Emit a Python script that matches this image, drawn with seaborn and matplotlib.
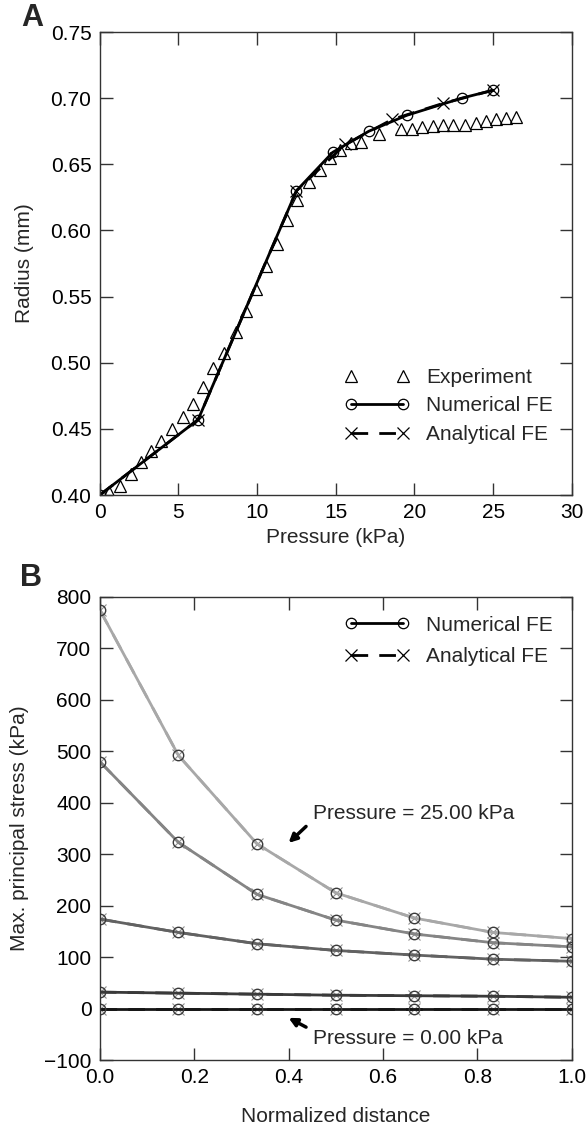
import numpy as np
import matplotlib
matplotlib.use("Agg")
import matplotlib.pyplot as plt
import seaborn as sns
from matplotlib.lines import Line2D

# --- panel A data: radius vs pressure ---
exp_p = [0.6, 1.27, 1.97, 2.61, 3.24, 3.88, 4.58, 5.30, 5.93, 6.57, 7.21, 7.92,
         8.64, 9.28, 9.90, 10.55, 11.29, 11.93, 12.56, 13.30, 13.98, 14.62, 15.26,
         15.96, 16.59, 17.76, 19.13, 19.83, 20.50, 21.15, 21.82, 22.46, 23.22,
         23.90, 24.54, 25.17, 25.81, 26.45]
exp_r = [0.402, 0.407, 0.416, 0.425, 0.433, 0.441, 0.450, 0.459, 0.469, 0.482,
         0.496, 0.507, 0.523, 0.539, 0.556, 0.573, 0.590, 0.608, 0.623, 0.637,
         0.646, 0.655, 0.661, 0.666, 0.667, 0.673, 0.677, 0.677, 0.678, 0.679,
         0.680, 0.680, 0.680, 0.681, 0.683, 0.684, 0.685, 0.686]
num_p = [0.0, 6.25, 12.5, 14.8, 17.1, 19.5, 23.0, 25.0]
num_r = [0.400, 0.457, 0.630, 0.659, 0.675, 0.687, 0.700, 0.706]
ana_p = [0.0, 6.25, 12.5, 15.6, 18.6, 21.8, 25.0]
ana_r = [0.400, 0.457, 0.630, 0.665, 0.684, 0.696, 0.706]

# --- panel B data: max principal stress vs normalized distance ---
dist = [0.0, 1/6, 2/6, 3/6, 4/6, 5/6, 1.0]
stress_25 = [775, 492, 320, 225, 176, 148, 136]
stress_19 = [480, 323, 222, 172, 145, 128, 120]
stress_12 = [174, 148, 126, 113, 104, 96, 92]
stress_6 = [32, 30, 28, 26, 25, 24, 22]
stress_0 = [-1, -1, -1, -1, -1, -1, -1]
series_b = [stress_25, stress_19, stress_12, stress_6, stress_0]
greys = ["#a8a8a8", "#858585", "#626262", "#3a3a3a", "#151515"]

FS = 15
sns.set_style("ticks")
plt.rcParams["font.family"] = ["Liberation Sans", "DejaVu Sans"]
plt.rcParams["font.size"] = FS
plt.rcParams["axes.edgecolor"] = "#333333"
plt.rcParams["xtick.color"] = "#333333"
plt.rcParams["ytick.color"] = "#333333"
plt.rcParams["xtick.labelcolor"] = "black"
plt.rcParams["ytick.labelcolor"] = "black"

fig = plt.figure(figsize=(5.87, 11.24), dpi=100)
axA = fig.add_axes([0.170, 0.5596, 0.804, 0.4119])
axB = fig.add_axes([0.170, 0.0569, 0.804, 0.4120])

# --- panel A ---
sns.lineplot(x=exp_p, y=exp_r, ax=axA, color="black", marker="^", ms=8,
             mfc="none", mec="black", mew=0.9, ls="", sort=False)
sns.lineplot(x=num_p, y=num_r, ax=axA, color="black", lw=2, marker="o", ms=7.5,
             mfc="none", mec="black", mew=0.9)
sns.lineplot(x=ana_p, y=ana_r, ax=axA, color="black", lw=2, ls=(0, (6, 4)),
             marker="x", ms=9, mec="black", mew=0.9)
axA.set_xlim(0, 30)
axA.set_ylim(0.40, 0.75)
axA.set_xticks(np.arange(0, 31, 5))
axA.set_yticks(np.arange(0.40, 0.751, 0.05))
axA.yaxis.set_major_formatter(matplotlib.ticker.FormatStrFormatter("%.2f"))
axA.set_xlabel("Pressure (kPa)", labelpad=4)
axA.set_ylabel("Radius (mm)", labelpad=12)

hA = [Line2D([], [], color="black", marker="^", ms=8, mfc="none", mew=0.9, ls=""),
      Line2D([], [], color="black", marker="o", ms=7.5, mfc="none", mew=0.9, lw=2),
      Line2D([], [], color="black", marker="x", ms=9, mew=0.9, lw=2, ls=(0, (6, 4)))]
axA.legend(hA, ["Experiment", "Numerical FE", "Analytical FE"], loc="lower right",
           numpoints=2, frameon=False, handlelength=3.1, handletextpad=0.8,
           labelspacing=0.45, bbox_to_anchor=(1.0, 0.07), fontsize=FS)

# --- panel B ---
for vals, c in zip(series_b, greys):
    sns.lineplot(x=dist, y=vals, ax=axB, color=c, lw=2, ls=(0, (6, 4)),
                 marker="x", ms=8.5, mew=0.8, mec="#909090")
    sns.lineplot(x=dist, y=vals, ax=axB, color=c, lw=2, marker="o", ms=7.5,
                 mfc="none", mew=1.0, mec="#3a3a3a")
axB.set_xlim(0, 1)
axB.set_ylim(-100, 800)
axB.set_xticks(np.arange(0, 1.01, 0.2))
axB.set_yticks(np.arange(-100, 801, 100))
axB.xaxis.set_major_formatter(matplotlib.ticker.FormatStrFormatter("%.1f"))
axB.set_xlabel("Normalized distance", labelpad=14)
axB.set_ylabel("Max. principal stress (kPa)", labelpad=11)

hB = [Line2D([], [], color="black", marker="o", ms=7.5, mfc="none", mew=0.9, lw=2),
      Line2D([], [], color="black", marker="x", ms=9, mew=0.9, lw=2, ls=(0, (6, 4)))]
axB.legend(hB, ["Numerical FE", "Analytical FE"], loc="upper right",
           numpoints=2, frameon=False, handlelength=3.1, handletextpad=0.8,
           labelspacing=0.6, bbox_to_anchor=(1.0, 1.0), fontsize=FS)

arrow = dict(arrowstyle="-|>", color="black", lw=2.5, mutation_scale=12,
             shrinkA=0, shrinkB=0)
axB.annotate("", xy=(0.40, 322), xytext=(0.437, 354), arrowprops=arrow)
axB.text(0.452, 380, "Pressure = 25.00 kPa", va="center", ha="left", fontsize=FS)
axB.annotate("", xy=(0.40, -18), xytext=(0.437, -36), arrowprops=arrow)
axB.text(0.452, -58, "Pressure = 0.00 kPa", va="center", ha="left", fontsize=FS)

for ax in (axA, axB):
    ax.tick_params(direction="in", top=True, right=True, length=9, width=1,
                   labelsize=FS, pad=6)
    for s in ax.spines.values():
        s.set_linewidth(1.0)

fig.text(0.055, 0.984, "A", fontsize=22, fontweight="bold", va="center", ha="center")
fig.text(0.053, 0.486, "B", fontsize=22, fontweight="bold", va="center", ha="center")

fig.savefig("out.png", dpi=100)
